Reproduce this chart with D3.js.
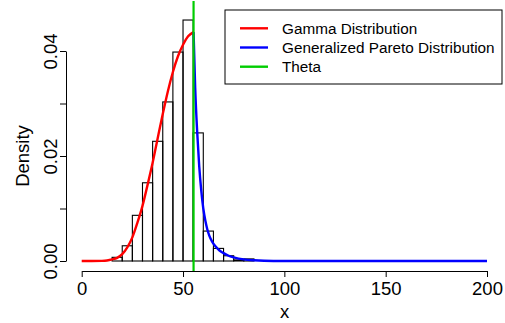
<!DOCTYPE html>
<html>
<head>
<meta charset="utf-8">
<script src="https://cdn.jsdelivr.net/npm/d3@7"></script>
<style>
  html, body { margin: 0; padding: 0; background: #ffffff; }
  svg { display: block; font-family: "Liberation Sans", Arial, sans-serif; }
</style>
</head>
<body>
<div id="chart"></div>
<script>
// histogram: left edges of 5-unit bins and their densities
const binStarts = [15, 20, 25, 30, 35, 40, 45, 50, 55, 60, 65, 70, 75, 80];
const binDensity = [0.0007, 0.0029, 0.0087, 0.0149, 0.0228, 0.0303, 0.0398, 0.0459,
                    0.0244, 0.0057, 0.0024, 0.0010, 0.0002, 0.0004];
const binWidth = 5;

// fitted gamma body
const gammaX = [0, 5, 10, 12.5, 15, 17.5, 20, 22.5, 25, 27.5, 30, 32.5, 35, 37.5,
                40, 42.5, 45, 47.5, 50, 52.5, 55.2];
const gammaY = [0, 0, 0.00003, 0.0001, 0.0003, 0.0006, 0.0013, 0.0026, 0.0045, 0.0073,
                0.0105, 0.0145, 0.0187, 0.0234, 0.0280, 0.0323, 0.0360, 0.0390, 0.0412,
                0.0428, 0.0436];

// fitted generalized pareto tail
const gpdX = [55.2, 56, 57, 58, 59, 60, 61, 62, 63, 64.5, 66, 68, 70, 72.5, 75, 80,
              85, 90, 100, 120, 200];
const gpdY = [0.0436, 0.0330, 0.0245, 0.0180, 0.0134, 0.0100, 0.0077, 0.0060, 0.0048,
              0.0036, 0.0028, 0.0020, 0.0015, 0.0010, 0.0007, 0.0003, 0.00013, 0.00005,
              0.00001, 0, 0];

const theta = 55.2;

const xTicks = [0, 50, 100, 150, 200];
const yTicks = [0, 0.01, 0.02, 0.03, 0.04];
const yTickLabels = ['0.00', '', '0.02', '', '0.04'];

const legendLabels = ['Gamma Distribution', 'Generalized Pareto Distribution', 'Theta'];
const legendColors = ['#ff0000', '#0000ff', '#00cd00'];

const width = 505;
const height = 323;
const plotTop = 1;
const plotBottom = 271;
const fontMain = 18.5;

const svg = d3.select('#chart')
    .append('svg')
    .attr('width', width)
    .attr('height', height);

const x = d3.scaleLinear().domain([0, 200]).range([81.7, 487]);
const y = d3.scaleLinear().domain([0, 0.04]).range([261, 51]);

// histogram bars
svg.append('g')
    .selectAll('rect')
    .data(binStarts.map((s, i) => ({ s, v: binDensity[i] })))
    .join('rect')
    .attr('x', (d) => x(d.s))
    .attr('y', (d) => y(d.v))
    .attr('width', (d) => x(d.s + binWidth) - x(d.s))
    .attr('height', (d) => y(0) - y(d.v))
    .attr('fill', 'none')
    .attr('stroke', '#000')
    .attr('stroke-width', 1.1);

// x axis
const xAxis = svg.append('g')
    .attr('transform', `translate(0,${plotBottom})`)
    .call(d3.axisBottom(x).tickValues(xTicks).tickSize(6).tickSizeOuter(0));
xAxis.selectAll('text')
    .attr('y', 24)
    .attr('dy', 0)
    .attr('fill', '#000')
    .attr('font-size', fontMain)
    .attr('font-family', '"Liberation Sans", Arial, sans-serif');

// y axis with rotated labels
const yAxis = svg.append('g')
    .attr('transform', 'translate(66,0)')
    .call(d3.axisLeft(y).tickValues(yTicks).tickSize(6).tickSizeOuter(0)
        .tickFormat((d, i) => yTickLabels[i]));
yAxis.selectAll('text')
    .attr('x', 0)
    .attr('dy', 0)
    .attr('text-anchor', 'middle')
    .attr('transform', 'translate(-9,0) rotate(-90)')
    .attr('fill', '#000')
    .attr('font-size', fontMain)
    .attr('font-family', '"Liberation Sans", Arial, sans-serif');

svg.selectAll('.domain, .tick line').attr('stroke', '#000');

// axis titles
svg.append('text')
    .attr('x', (66 + 503) / 2)
    .attr('y', 318)
    .attr('text-anchor', 'middle')
    .attr('font-size', fontMain)
    .text('x');

svg.append('text')
    .attr('transform', `translate(29,${y(0.02)}) rotate(-90)`)
    .attr('text-anchor', 'middle')
    .attr('font-size', fontMain)
    .text('Density');

// fitted curves
const line = d3.line()
    .x((d) => x(d[0]))
    .y((d) => y(d[1]))
    .curve(d3.curveMonotoneX);

svg.append('path')
    .datum(gammaX.map((v, i) => [v, gammaY[i]]))
    .attr('d', line)
    .attr('fill', 'none')
    .attr('stroke', legendColors[0])
    .attr('stroke-width', 2.4);

svg.append('path')
    .datum(gpdX.map((v, i) => [v, gpdY[i]]))
    .attr('d', line)
    .attr('fill', 'none')
    .attr('stroke', legendColors[1])
    .attr('stroke-width', 2.4);

// theta line
svg.append('line')
    .attr('x1', x(theta))
    .attr('x2', x(theta))
    .attr('y1', plotTop)
    .attr('y2', plotBottom)
    .attr('stroke', legendColors[2])
    .attr('stroke-width', 2.2);

// legend
const legend = svg.append('g');
legend.append('rect')
    .attr('x', 225)
    .attr('y', 10)
    .attr('width', 277)
    .attr('height', 74)
    .attr('fill', '#fff')
    .attr('stroke', '#000')
    .attr('stroke-width', 1);

legendLabels.forEach((label, i) => {
    const ly = 28.3 + i * 19.2;
    legend.append('line')
        .attr('x1', 240)
        .attr('x2', 268)
        .attr('y1', ly)
        .attr('y2', ly)
        .attr('stroke', legendColors[i])
        .attr('stroke-width', 2.4);
    legend.append('text')
        .attr('x', 282)
        .attr('y', ly)
        .attr('dy', '0.35em')
        .attr('font-size', 15.3)
        .attr('fill', '#000')
        .text(label);
});
</script>
</body>
</html>
